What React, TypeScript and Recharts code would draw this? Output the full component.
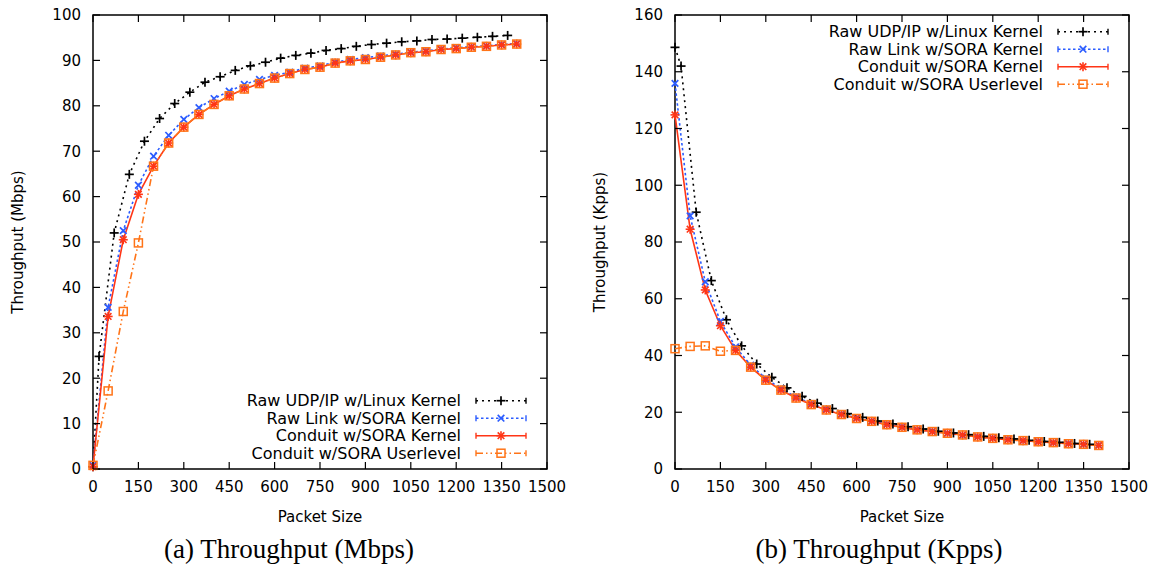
import { LineChart, Line, XAxis, YAxis, ReferenceArea } from "recharts";

// packet sizes (bytes) on the x axis
const SIZE_X = [0, 50, 100, 150, 200, 250, 300, 350, 400, 450, 500, 550, 600, 650, 700, 750, 800, 850, 900, 950, 1000, 1050, 1100, 1150, 1200, 1250, 1300, 1350, 1400];
const UDP_X = [0, 20, 70, 120, 170, 220, 270, 320, 370, 420, 470, 520, 570, 620, 670, 720, 770, 820, 870, 920, 970, 1020, 1070, 1120, 1170, 1220, 1270, 1320, 1370];

const X_TICKS = [0, 150, 300, 450, 600, 750, 900, 1050, 1200, 1350, 1500];
const MBPS_TICKS = [0, 10, 20, 30, 40, 50, 60, 70, 80, 90, 100];
const KPPS_TICKS = [0, 20, 40, 60, 80, 100, 120, 140, 160];

const LABELS = [
  "Raw UDP/IP w/Linux Kernel",
  "Raw Link w/SORA Kernel",
  "Conduit w/SORA Kernel",
  "Conduit w/SORA Userlevel",
];

// (a) throughput, Mbps
const udpMbps = [0.5, 24.8, 52.0, 64.9, 72.2, 77.2, 80.5, 83.0, 85.2, 86.4, 87.8, 88.8, 89.6, 90.5, 91.1, 91.6, 92.2, 92.6, 93.1, 93.5, 93.8, 94.1, 94.3, 94.6, 94.7, 94.9, 95.1, 95.3, 95.5];
const linkMbps = [0.8, 35.6, 52.5, 62.5, 68.9, 73.5, 77.0, 79.6, 81.6, 83.2, 84.7, 85.8, 86.7, 87.4, 88.3, 88.8, 89.6, 90.2, 90.6, 91.0, 91.4, 91.8, 92.1, 92.5, 92.8, 93.0, 93.2, 93.5, 93.7];
const kernelMbps = [0.5, 33.6, 50.5, 60.5, 66.7, 71.8, 75.3, 78.1, 80.3, 82.2, 83.7, 84.9, 86.1, 87.1, 88.0, 88.5, 89.4, 89.9, 90.2, 90.7, 91.2, 91.7, 91.9, 92.4, 92.6, 92.9, 93.1, 93.4, 93.6];
const userMbps = [0.8, 17.2, 34.7, 49.8, 66.7, 71.8, 75.3, 78.1, 80.3, 82.2, 83.7, 84.9, 86.1, 87.1, 88.0, 88.5, 89.4, 89.9, 90.2, 90.7, 91.2, 91.7, 91.9, 92.4, 92.6, 92.9, 93.1, 93.4, 93.6];

// (b) throughput, Kpps
const udpKpps = [148.6, 142.0, 90.5, 66.4, 52.6, 43.4, 37.0, 32.3, 28.6, 25.6, 23.2, 21.3, 19.5, 18.2, 16.9, 15.9, 14.9, 14.1, 13.3, 12.7, 12.1, 11.5, 11.0, 10.6, 10.1, 9.7, 9.4, 9.0, 8.7];
const linkKpps = [135.9, 89.2, 66.0, 52.0, 43.0, 36.6, 31.9, 28.3, 25.4, 23.0, 21.1, 19.4, 18.0, 16.9, 15.8, 14.8, 13.9, 13.3, 12.6, 11.9, 11.4, 10.9, 10.5, 10.0, 9.7, 9.3, 9.0, 8.7, 8.4];
const kernelKpps = [124.8, 84.5, 63.1, 50.5, 41.8, 35.9, 31.3, 27.8, 25.0, 22.7, 20.8, 19.2, 17.8, 16.8, 15.6, 14.7, 13.8, 13.2, 12.6, 12.0, 11.3, 10.8, 10.3, 10.0, 9.6, 9.3, 8.9, 8.7, 8.3];
const userKpps = [42.4, 43.2, 43.4, 41.5, 41.8, 35.9, 31.3, 27.8, 25.0, 22.7, 20.8, 19.2, 17.8, 16.8, 15.6, 14.7, 13.8, 13.2, 12.6, 12.0, 11.3, 10.8, 10.3, 10.0, 9.6, 9.3, 8.9, 8.7, 8.3];

const toPoints = (xs: number[], ys: number[]) => xs.map((x, i) => ({ x, y: ys[i] }));

const W = 582;
const H = 528;
const MARGIN = { top: 15, right: 35, left: 0, bottom: 0 };
const Y_W = 93;
const X_H = 59;
const PW = W - MARGIN.right - MARGIN.left - Y_W;
const PH = H - MARGIN.top - MARGIN.bottom - X_H;
const FONT = "'DejaVu Sans', Verdana, sans-serif";

type Kind = "plus" | "cross" | "star" | "square";

interface Style {
  color: string;
  dash?: string;
  kind: Kind;
}

const STYLES: Style[] = [
  { color: "#000000", dash: "2 4", kind: "plus" },
  { color: "#2b5cff", dash: "2.5 2.5", kind: "cross" },
  { color: "#ff3516", kind: "star" },
  { color: "#ff7418", dash: "7 3 1.5 3 1.5 3", kind: "square" },
];

function Marker({ kind, cx, cy, color }: { kind: Kind; cx: number; cy: number; color: string }) {
  const s = 4.5;
  const c = 3.3;
  if (kind === "plus") {
    return (
      <g stroke={color} strokeWidth={1.7}>
        <line x1={cx - s} y1={cy} x2={cx + s} y2={cy} />
        <line x1={cx} y1={cy - s} x2={cx} y2={cy + s} />
      </g>
    );
  }
  if (kind === "cross") {
    return (
      <g stroke={color} strokeWidth={1.7}>
        <line x1={cx - c} y1={cy - c} x2={cx + c} y2={cy + c} />
        <line x1={cx - c} y1={cy + c} x2={cx + c} y2={cy - c} />
      </g>
    );
  }
  if (kind === "star") {
    return (
      <g stroke={color} strokeWidth={1.6}>
        <line x1={cx - s} y1={cy} x2={cx + s} y2={cy} />
        <line x1={cx} y1={cy - s} x2={cx} y2={cy + s} />
        <line x1={cx - c} y1={cy - c} x2={cx + c} y2={cy + c} />
        <line x1={cx - c} y1={cy + c} x2={cx + c} y2={cy - c} />
      </g>
    );
  }
  return <rect x={cx - 4} y={cy - 4} width={8} height={8} fill="none" stroke={color} strokeWidth={1.5} />;
}

function XTick(props: any) {
  const { x, y, payload } = props;
  return (
    <g>
      <line x1={x} y1={y} x2={x} y2={y - 7} stroke="#000" strokeWidth={1.2} />
      <line x1={x} y1={y - PH} x2={x} y2={y - PH + 7} stroke="#000" strokeWidth={1.2} />
      <text x={x} y={y + 18} dy="0.36em" textAnchor="middle" fontSize={15} fill="#000" fontFamily={FONT}>
        {payload.value}
      </text>
    </g>
  );
}

function YTick(props: any) {
  const { x, y, payload } = props;
  return (
    <g>
      <line x1={x} y1={y} x2={x + 7} y2={y} stroke="#000" strokeWidth={1.2} />
      <line x1={x + PW} y1={y} x2={x + PW - 7} y2={y} stroke="#000" strokeWidth={1.2} />
      <text x={x - 12} y={y} dy="0.36em" textAnchor="end" fontSize={15} fill="#000" fontFamily={FONT}>
        {payload.value}
      </text>
    </g>
  );
}

function KeyOverlay({ top }: { top: number }) {
  return (
    <svg width={W} height={H} style={{ position: "absolute", left: 0, top: 0, pointerEvents: "none" }}>
      {LABELS.map((label, i) => {
        const st = STYLES[i];
        const y = top + i * 17.5;
        return (
          <g key={label}>
            <text x={461} y={y} dy="0.36em" textAnchor="end" fontSize={16} fill="#000" fontFamily={FONT}>
              {label}
            </text>
            <line x1={476} y1={y} x2={526} y2={y} stroke={st.color} strokeWidth={1.6} strokeDasharray={st.dash} />
            <line x1={476} y1={y - 3} x2={476} y2={y + 3} stroke={st.color} strokeWidth={1.4} />
            <line x1={526} y1={y - 3} x2={526} y2={y + 3} stroke={st.color} strokeWidth={1.4} />
            <Marker kind={st.kind} cx={501} cy={y} color={st.color} />
          </g>
        );
      })}
    </svg>
  );
}

interface PanelProps {
  left: number;
  yLabel: string;
  yMax: number;
  yTicks: number[];
  series: { x: number; y: number }[][];
  keyTop: number;
  caption: string;
  captionX: number;
}

function Panel({ left, yLabel, yMax, yTicks, series, keyTop, caption, captionX }: PanelProps) {
  return (
    <div style={{ position: "absolute", left, top: 0, width: W, height: 572 }}>
      <LineChart width={W} height={H} margin={MARGIN} style={{ fontFamily: FONT }}>
        <ReferenceArea x1={0} x2={1500} y1={0} y2={yMax} fill="none" stroke="#000" strokeWidth={1.5} />
        <XAxis
          type="number"
          dataKey="x"
          domain={[0, 1500]}
          ticks={X_TICKS}
          interval={0}
          height={X_H}
          axisLine={false}
          tickLine={false}
          tickSize={0}
          tickMargin={0}
          tick={<XTick />}
          allowDuplicatedCategory={false}
          label={{ value: "Packet Size", position: "insideBottom", offset: 6, fontSize: 15, fill: "#000" }}
        />
        <YAxis
          type="number"
          dataKey="y"
          domain={[0, yMax]}
          ticks={yTicks}
          interval={0}
          width={Y_W}
          axisLine={false}
          tickLine={false}
          tickSize={0}
          tickMargin={0}
          tick={<YTick />}
          label={{
            value: yLabel,
            angle: -90,
            position: "insideLeft",
            offset: 18,
            fontSize: 15,
            fill: "#000",
            style: { textAnchor: "middle" },
          }}
        />
        {series.map((pts, i) => {
          const st = STYLES[i];
          return (
            <Line
              key={LABELS[i]}
              isAnimationActive={false}
              data={pts}
              dataKey="y"
              type="linear"
              stroke={st.color}
              strokeWidth={1.6}
              strokeDasharray={st.dash}
              dot={(p: any) => <Marker key={`${i}-${p.index}`} kind={st.kind} cx={p.cx} cy={p.cy} color={st.color} />}
              activeDot={false}
            />
          );
        })}
      </LineChart>
      <KeyOverlay top={keyTop} />
      <div
        style={{
          position: "absolute",
          left: captionX - 200,
          width: 400,
          top: 534,
          textAlign: "center",
          fontFamily: "'Liberation Serif', serif",
          fontSize: 27,
          color: "#000",
        }}
      >
        {caption}
      </div>
    </div>
  );
}

export default function App() {
  return (
    <div style={{ position: "absolute", left: 0, top: 0, width: 1164, height: 572, background: "#fff" }}>
      <Panel
        left={0}
        yLabel="Throughput (Mbps)"
        yMax={100}
        yTicks={MBPS_TICKS}
        series={[
          toPoints(UDP_X, udpMbps),
          toPoints(SIZE_X, linkMbps),
          toPoints(SIZE_X, kernelMbps),
          toPoints(SIZE_X, userMbps),
        ]}
        keyTop={400.7}
        caption="(a) Throughput (Mbps)"
        captionX={289}
      />
      <Panel
        left={582}
        yLabel="Throughput (Kpps)"
        yMax={160}
        yTicks={KPPS_TICKS}
        series={[
          toPoints(UDP_X, udpKpps),
          toPoints(SIZE_X, linkKpps),
          toPoints(SIZE_X, kernelKpps),
          toPoints(SIZE_X, userKpps),
        ]}
        keyTop={31.7}
        caption="(b) Throughput (Kpps)"
        captionX={297}
      />
    </div>
  );
}
